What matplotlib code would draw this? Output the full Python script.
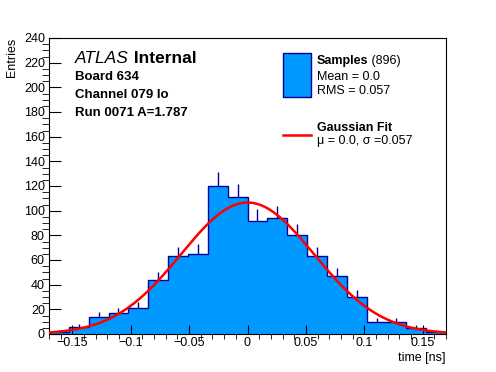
import numpy as np
import matplotlib
matplotlib.use("Agg")
import matplotlib.pyplot as plt
from matplotlib.ticker import MultipleLocator, FixedLocator, FixedFormatter
from matplotlib.patches import Rectangle
from matplotlib.lines import Line2D

plt.rcParams['font.family'] = ['Liberation Sans', 'DejaVu Sans']

# Histogram data (20 bins from -0.17 to 0.17 ns)
bin_edges = np.linspace(-0.17, 0.17, 21)
counts = [2, 6, 14, 17, 21, 44, 63, 65, 120, 111,
          92, 94, 80, 63, 47, 30, 10, 10, 5, 2]

# Fit result
fit_mu = 0.0
fit_sigma = 0.057
n_entries = 896

xtick_vals = [-0.15, -0.1, -0.05, 0, 0.05, 0.1, 0.15]
xtick_labels = ["\u22120.15", "\u22120.1", "\u22120.05", "0", "0.05", "0.1", "0.15"]
ytick_vals = list(range(0, 241, 20))

fill_col = '#0099ff'
edge_col = '#000099'

W, H = 496, 372
fig = plt.figure(figsize=(W / 100, H / 100), dpi=100)
ax = fig.add_axes([49 / W, 1 - 334 / H, (446 - 49) / W, (334 - 38) / H])

counts = np.array(counts, dtype=float)
ax.stairs(counts, bin_edges, fill=True, color=fill_col, zorder=1)
ax.stairs(counts, bin_edges, color=edge_col, lw=1.0, zorder=2)

# upper part of the sqrt(N) error bars
centers = 0.5 * (bin_edges[:-1] + bin_edges[1:])
ax.vlines(centers, counts, counts + np.sqrt(counts), color=edge_col, lw=1.0, zorder=2)

# Gaussian fit curve
binw = bin_edges[1] - bin_edges[0]
amp = n_entries * binw / (fit_sigma * np.sqrt(2 * np.pi))
xx = np.linspace(-0.17, 0.17, 400)
ax.plot(xx, amp * np.exp(-0.5 * ((xx - fit_mu) / fit_sigma) ** 2), color='red', lw=1.8, zorder=3)

ax.set_xlim(-0.17, 0.17)
ax.set_ylim(0, 240)
ax.xaxis.set_major_locator(FixedLocator(xtick_vals))
ax.xaxis.set_major_formatter(FixedFormatter(xtick_labels))
ax.xaxis.set_minor_locator(MultipleLocator(0.01))
ax.yaxis.set_major_locator(FixedLocator(ytick_vals))
ax.yaxis.set_minor_locator(MultipleLocator(5))
ax.tick_params(direction='in', top=False, right=False, labelsize=9, width=0.8, colors='black')
ax.tick_params(axis='x', which='major', length=6.5, pad=2)
ax.tick_params(axis='x', which='minor', length=3.3)
ax.tick_params(axis='y', which='major', length=8.6, pad=3)
ax.tick_params(axis='y', which='minor', length=4.8)
for s in ax.spines.values():
    s.set_linewidth(0.8)

fig.text(12 / W, 1 - 38 / H, "Entries", rotation=90, ha='center', va='top', fontsize=9)
fig.text(446 / W, 1 - 358 / H, "time [ns]", ha='right', va='center', fontsize=9)

# labels top-left
t_atlas = fig.text(75 / W, 1 - 63 / H, "ATLAS", style='italic', fontsize=12.5, va='baseline')
ax.annotate(" Internal", xy=(1, 0), xycoords=t_atlas, va='bottom', fontsize=12.5, fontweight='bold')
fig.text(75 / W, 1 - 77 / H, "Board 634", fontsize=9.5, fontweight='bold', va='center')
fig.text(75 / W, 1 - 95 / H, "Channel 079 Io", fontsize=9.5, fontweight='bold', va='center')
fig.text(75 / W, 1 - 113 / H, "Run 0071 A=1.787", fontsize=9.5, fontweight='bold', va='center')

# legend drawn by hand
fig.patches.append(Rectangle((283 / W, 1 - 97 / H), 28 / W, 44 / H, transform=fig.transFigure,
                             facecolor=fill_col, edgecolor=edge_col, lw=1.0))
t_s = fig.text(317 / W, 1 - 61 / H, "Samples", fontsize=9, fontweight='bold', va='center')
ax.annotate(" (%d)" % n_entries, xy=(1, 0), xycoords=t_s, va='bottom', fontsize=9)
fig.text(317 / W, 1 - 77 / H, "Mean = %.1f" % fit_mu, fontsize=9, va='center')
fig.text(317 / W, 1 - 91 / H, "RMS = %.3f" % fit_sigma, fontsize=9, va='center')
fig.lines.append(Line2D([283 / W, 311 / W], [1 - 135 / H, 1 - 135 / H], transform=fig.transFigure,
                        color='red', lw=1.8))
fig.text(317 / W, 1 - 128 / H, "Gaussian Fit", fontsize=9, fontweight='bold', va='center')
fig.text(317 / W, 1 - 141 / H, "\u03bc = %.1f, \u03c3 =%.3f" % (fit_mu, fit_sigma), fontsize=9, va='center')

fig.savefig("out.png", dpi=100)
